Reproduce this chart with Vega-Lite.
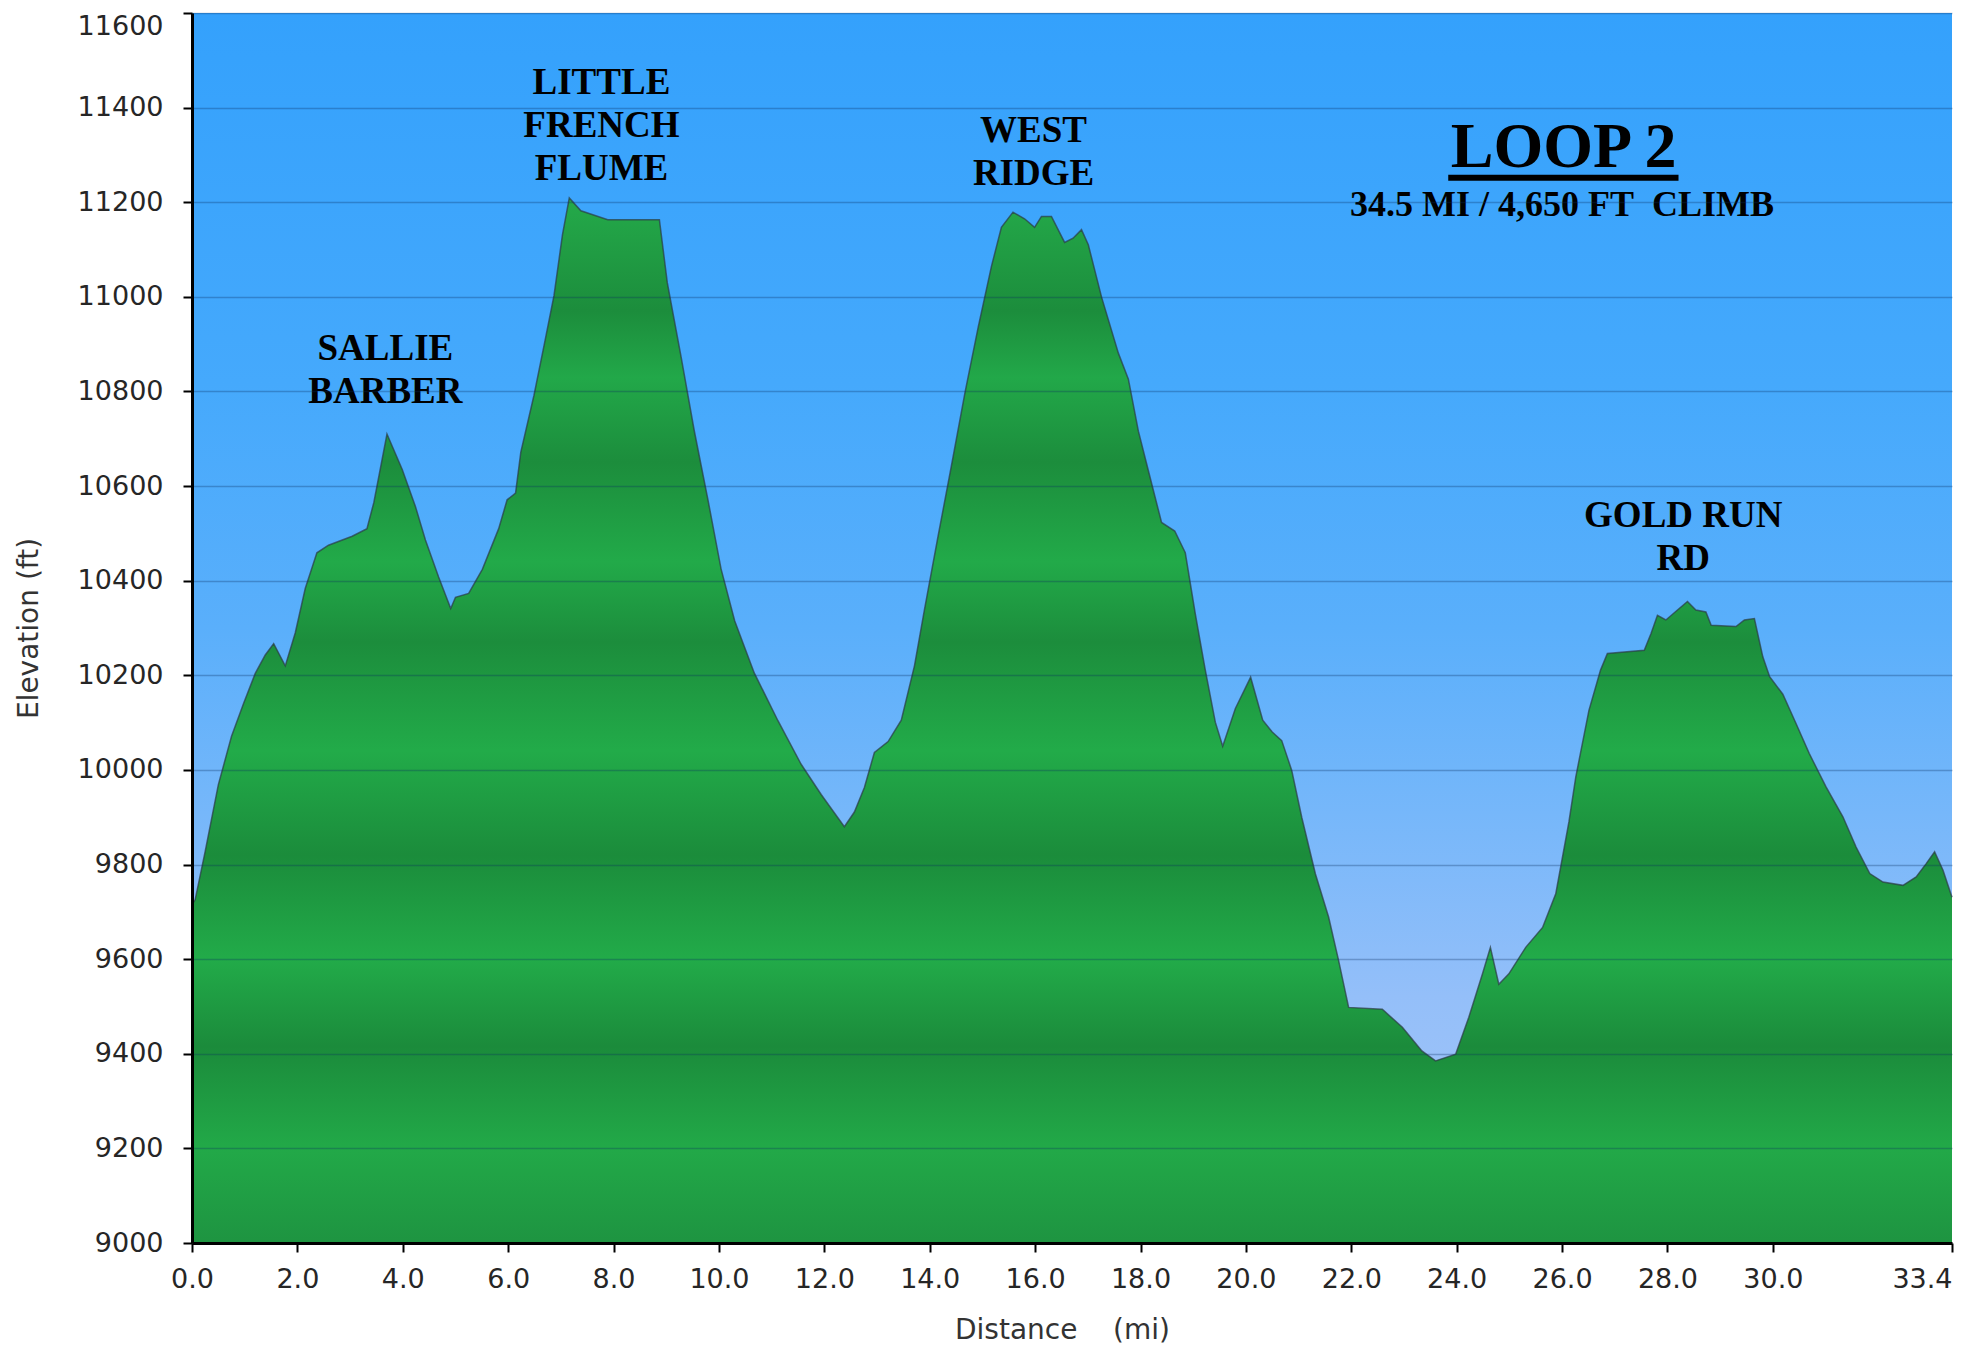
{
  "$schema": "https://vega.github.io/schema/vega-lite/v6.json",
  "width": 1760,
  "height": 1230,
  "autosize": {"type": "none"},
  "padding": {"left": 192, "top": 13, "right": 19, "bottom": 105},
  "background": "white",
  "config": {
    "view": {"stroke": null},
    "axis": {
      "domainColor": "#000000",
      "domainWidth": 3,
      "tickColor": "#000000",
      "tickWidth": 2,
      "tickSize": 9,
      "labelFont": "DejaVu Sans",
      "labelFontSize": 27,
      "labelColor": "#262626",
      "titleFont": "DejaVu Sans",
      "titleFontSize": 28,
      "titleFontWeight": "normal",
      "titleColor": "#333333",
      "gridColor": "#0b2f60",
      "gridOpacity": 0.3,
      "gridWidth": 1.5
    }
  },
  "datasets": {
    "profile": [
      {"mile": 0.0, "elev": 9715}, {"mile": 0.06, "elev": 9726}, {"mile": 0.25, "elev": 9828},
      {"mile": 0.5, "elev": 9969}, {"mile": 0.75, "elev": 10071}, {"mile": 0.98, "elev": 10141},
      {"mile": 1.2, "elev": 10204}, {"mile": 1.39, "elev": 10243}, {"mile": 1.55, "elev": 10267},
      {"mile": 1.77, "elev": 10220}, {"mile": 1.96, "elev": 10290}, {"mile": 2.15, "elev": 10384},
      {"mile": 2.37, "elev": 10459}, {"mile": 2.59, "elev": 10475}, {"mile": 3.04, "elev": 10494},
      {"mile": 3.32, "elev": 10510}, {"mile": 3.45, "elev": 10565}, {"mile": 3.7, "elev": 10710},
      {"mile": 3.99, "elev": 10635}, {"mile": 4.24, "elev": 10557}, {"mile": 4.43, "elev": 10486},
      {"mile": 4.68, "elev": 10408}, {"mile": 4.91, "elev": 10341}, {"mile": 5.0, "elev": 10365},
      {"mile": 5.25, "elev": 10373}, {"mile": 5.51, "elev": 10424}, {"mile": 5.82, "elev": 10510},
      {"mile": 5.98, "elev": 10571}, {"mile": 6.14, "elev": 10585}, {"mile": 6.24, "elev": 10672},
      {"mile": 6.49, "elev": 10792}, {"mile": 6.69, "elev": 10902}, {"mile": 6.87, "elev": 11003},
      {"mile": 7.03, "elev": 11131}, {"mile": 7.16, "elev": 11209}, {"mile": 7.38, "elev": 11182},
      {"mile": 7.89, "elev": 11163}, {"mile": 8.87, "elev": 11163}, {"mile": 9.02, "elev": 11030},
      {"mile": 9.28, "elev": 10874}, {"mile": 9.53, "elev": 10718}, {"mile": 9.79, "elev": 10572},
      {"mile": 10.04, "elev": 10425}, {"mile": 10.3, "elev": 10315}, {"mile": 10.67, "elev": 10205},
      {"mile": 11.12, "elev": 10104}, {"mile": 11.56, "elev": 10012}, {"mile": 11.94, "elev": 9948},
      {"mile": 12.38, "elev": 9880}, {"mile": 12.57, "elev": 9911}, {"mile": 12.76, "elev": 9963},
      {"mile": 12.95, "elev": 10037}, {"mile": 13.21, "elev": 10060}, {"mile": 13.46, "elev": 10105},
      {"mile": 13.71, "elev": 10220}, {"mile": 13.9, "elev": 10339}, {"mile": 14.16, "elev": 10495},
      {"mile": 14.41, "elev": 10642}, {"mile": 14.67, "elev": 10798}, {"mile": 14.92, "elev": 10936},
      {"mile": 15.17, "elev": 11064}, {"mile": 15.36, "elev": 11147}, {"mile": 15.58, "elev": 11179},
      {"mile": 15.8, "elev": 11165}, {"mile": 15.99, "elev": 11147}, {"mile": 16.12, "elev": 11170},
      {"mile": 16.31, "elev": 11170}, {"mile": 16.56, "elev": 11115}, {"mile": 16.72, "elev": 11124},
      {"mile": 16.88, "elev": 11142}, {"mile": 17.01, "elev": 11110}, {"mile": 17.26, "elev": 11000},
      {"mile": 17.58, "elev": 10881}, {"mile": 17.77, "elev": 10826}, {"mile": 17.96, "elev": 10716},
      {"mile": 18.21, "elev": 10606}, {"mile": 18.4, "elev": 10523}, {"mile": 18.65, "elev": 10505},
      {"mile": 18.85, "elev": 10459}, {"mile": 19.04, "elev": 10330}, {"mile": 19.23, "elev": 10211},
      {"mile": 19.42, "elev": 10101}, {"mile": 19.56, "elev": 10050}, {"mile": 19.8, "elev": 10130},
      {"mile": 20.09, "elev": 10196}, {"mile": 20.32, "elev": 10105}, {"mile": 20.5, "elev": 10080},
      {"mile": 20.68, "elev": 10062}, {"mile": 20.87, "elev": 9999}, {"mile": 21.06, "elev": 9900},
      {"mile": 21.32, "elev": 9780}, {"mile": 21.57, "elev": 9689}, {"mile": 21.76, "elev": 9597},
      {"mile": 21.95, "elev": 9498}, {"mile": 22.59, "elev": 9494}, {"mile": 22.97, "elev": 9456},
      {"mile": 23.34, "elev": 9406}, {"mile": 23.6, "elev": 9385}, {"mile": 23.98, "elev": 9399},
      {"mile": 24.23, "elev": 9477}, {"mile": 24.49, "elev": 9569}, {"mile": 24.64, "elev": 9625},
      {"mile": 24.8, "elev": 9547}, {"mile": 24.99, "elev": 9569}, {"mile": 25.31, "elev": 9625},
      {"mile": 25.63, "elev": 9667}, {"mile": 25.88, "elev": 9738}, {"mile": 26.13, "elev": 9890},
      {"mile": 26.26, "elev": 9985}, {"mile": 26.51, "elev": 10126}, {"mile": 26.73, "elev": 10211},
      {"mile": 26.86, "elev": 10246}, {"mile": 27.56, "elev": 10253}, {"mile": 27.69, "elev": 10289},
      {"mile": 27.81, "elev": 10327}, {"mile": 27.97, "elev": 10317}, {"mile": 28.19, "elev": 10338},
      {"mile": 28.38, "elev": 10356}, {"mile": 28.54, "elev": 10338}, {"mile": 28.73, "elev": 10334},
      {"mile": 28.83, "elev": 10306}, {"mile": 29.3, "elev": 10303}, {"mile": 29.46, "elev": 10317},
      {"mile": 29.65, "elev": 10320}, {"mile": 29.81, "elev": 10239}, {"mile": 29.94, "elev": 10197},
      {"mile": 30.19, "elev": 10160}, {"mile": 30.44, "elev": 10098}, {"mile": 30.69, "elev": 10035},
      {"mile": 31.01, "elev": 9964}, {"mile": 31.33, "elev": 9901}, {"mile": 31.58, "elev": 9837},
      {"mile": 31.84, "elev": 9781}, {"mile": 32.09, "elev": 9763}, {"mile": 32.47, "elev": 9756},
      {"mile": 32.72, "elev": 9774}, {"mile": 32.91, "elev": 9802}, {"mile": 33.07, "elev": 9827},
      {"mile": 33.23, "elev": 9788}, {"mile": 33.4, "elev": 9731}
    ],
    "landmarks": [
      {"name": "SALLIE\nBARBER", "mile": 3.67, "elev": 10866},
      {"name": "LITTLE\nFRENCH\nFLUME", "mile": 7.77, "elev": 11428},
      {"name": "WEST\nRIDGE", "mile": 15.97, "elev": 11327},
      {"name": "GOLD RUN\nRD", "mile": 28.3, "elev": 10513}
    ]
  },
  "layer": [
    {
      "data": {"values": [{}]},
      "mark": {
        "type": "rect",
        "fill": {
          "gradient": "linear", "x1": 0, "y1": 0, "x2": 0, "y2": 1,
          "stops": [
            {"offset": 0, "color": "#34a1fc"},
            {"offset": 0.3, "color": "#45a9fc"},
            {"offset": 0.5, "color": "#5aaffb"},
            {"offset": 0.65, "color": "#76b7fa"},
            {"offset": 0.8, "color": "#94bff9"},
            {"offset": 1, "color": "#a8c6f8"}
          ]
        }
      },
      "encoding": {
        "x": {"datum": 0, "type": "quantitative"},
        "x2": {"datum": 33.4},
        "y": {"datum": 9000, "type": "quantitative"},
        "y2": {"datum": 11600}
      }
    },
    {
      "data": {"name": "profile"},
      "mark": {
        "type": "area",
        "fill": {
          "gradient": "linear", "x1": 0, "y1": 0, "x2": 0, "y2": 1,
          "stops": [
            {"offset": 0, "color": "#24aa4a"},
            {"offset": 0.108, "color": "#1c8d3c"},
            {"offset": 0.172, "color": "#22a849"},
            {"offset": 0.253, "color": "#1c8d3c"},
            {"offset": 0.348, "color": "#22aa49"},
            {"offset": 0.425, "color": "#1c8d3c"},
            {"offset": 0.529, "color": "#22ab49"},
            {"offset": 0.629, "color": "#1b8c3b"},
            {"offset": 0.728, "color": "#22ab49"},
            {"offset": 0.812, "color": "#1b8b3b"},
            {"offset": 0.909, "color": "#22a948"},
            {"offset": 1, "color": "#1e9441"}
          ]
        }
      },
      "encoding": {
        "x": {
          "field": "mile", "type": "quantitative",
          "scale": {"domain": [0, 33.4], "nice": false, "zero": false},
          "axis": {
            "title": "Distance\u00a0\u00a0\u00a0 (mi)",
            "values": [0, 2, 4, 6, 8, 10, 12, 14, 16, 18, 20, 22, 24, 26, 28, 30, 33.4],
            "format": ".1f",
            "grid": false,
            "labelPadding": 14,
            "titlePadding": 24,
            "titleX": 870,
            "labelAlign": {"expr": "datum.value > 33 ? 'right' : 'center'"},
            "zindex": 1
          }
        },
        "y": {
          "field": "elev", "type": "quantitative", "stack": null,
          "scale": {"domain": [9000, 11600], "nice": false, "zero": false},
          "axis": {
            "title": "Elevation (ft)",
            "values": [9000, 9200, 9400, 9600, 9800, 10000, 10200, 10400, 10600, 10800, 11000, 11200, 11400, 11600],
            "format": "d",
            "grid": true,
            "labelPadding": 20,
            "titlePadding": 34,
            "labelBaseline": {"expr": "datum.value >= 11600 ? 'top' : 'middle'"},
            "zindex": 1
          }
        },
        "y2": {"datum": 9000}
      }
    },
    {
      "data": {"name": "profile"},
      "mark": {"type": "line", "stroke": "#2b3b45", "strokeWidth": 1.5, "opacity": 0.7},
      "encoding": {
        "x": {"field": "mile", "type": "quantitative"},
        "y": {"field": "elev", "type": "quantitative"}
      }
    },
    {
      "data": {"name": "landmarks"},
      "mark": {
        "type": "text", "font": "Liberation Serif", "fontWeight": "bold", "fontSize": 37,
        "color": "#000000", "align": "center", "baseline": "alphabetic",
        "lineBreak": "\n", "lineHeight": 43
      },
      "encoding": {
        "x": {"field": "mile", "type": "quantitative"},
        "y": {"field": "elev", "type": "quantitative"},
        "text": {"field": "name", "type": "nominal"}
      }
    },
    {
      "data": {"values": [{"t": "LOOP 2"}]},
      "mark": {
        "type": "text", "font": "Liberation Serif", "fontWeight": "bold", "fontSize": 64,
        "color": "#000000", "align": "center", "baseline": "alphabetic"
      },
      "encoding": {
        "x": {"datum": 26.03, "type": "quantitative"},
        "y": {"datum": 11274, "type": "quantitative"},
        "text": {"field": "t", "type": "nominal"}
      }
    },
    {
      "data": {"values": [{}]},
      "mark": {"type": "rule", "color": "#000000", "strokeWidth": 6},
      "encoding": {
        "x": {"datum": 23.84, "type": "quantitative"},
        "x2": {"datum": 28.21},
        "y": {"datum": 11252, "type": "quantitative"}
      }
    },
    {
      "data": {"values": [{"t": "34.5 MI / 4,650 FT\u00a0 CLIMB"}]},
      "mark": {
        "type": "text", "font": "Liberation Serif", "fontWeight": "bold", "fontSize": 36,
        "color": "#000000", "align": "center", "baseline": "alphabetic"
      },
      "encoding": {
        "x": {"datum": 26.0, "type": "quantitative"},
        "y": {"datum": 11171, "type": "quantitative"},
        "text": {"field": "t", "type": "nominal"}
      }
    }
  ]
}
